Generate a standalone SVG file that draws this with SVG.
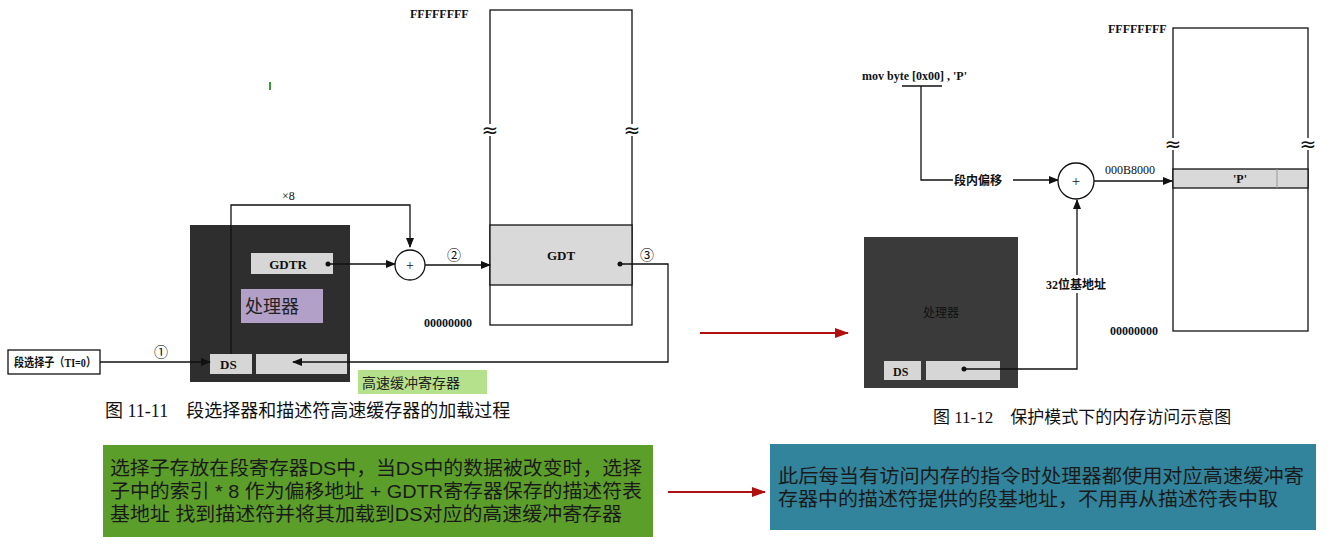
<svg xmlns="http://www.w3.org/2000/svg" width="1332" height="544" viewBox="0 0 1332 544">
<defs>
<marker id="ah" markerWidth="10" markerHeight="8" refX="9" refY="4" orient="auto" markerUnits="userSpaceOnUse"><path d="M0,0 L10,4 L0,8 Z" fill="#111"/></marker>
<marker id="rh" markerWidth="14" markerHeight="10" refX="13" refY="5" orient="auto" markerUnits="userSpaceOnUse"><path d="M0,0 L14,5 L0,10 Z" fill="#b01010"/></marker>
<style>
.t{font-family:"Liberation Serif","Noto Sans CJK SC",serif;fill:#111}
.s{font-family:"Liberation Sans","Noto Sans CJK SC",sans-serif}
.ln{stroke:#111;stroke-width:1.3;fill:none}
.box{fill:#fff;stroke:#111;stroke-width:1.3}
.dark{fill:#2e2e2e}
.reg{fill:#d6d6d6}
.band{fill:#d9d9d9;stroke:#111;stroke-width:1.3}
.brk{font-family:"DejaVu Sans",sans-serif;font-size:20px;fill:#111}
</style>
</defs>
<rect width="1332" height="544" fill="#fff"/>

<g id="mem1">
<rect x="490" y="10" width="142" height="315" class="box"/>
<rect x="490" y="225" width="142" height="60" class="band"/>
<text x="561" y="260" class="t" font-size="13" font-weight="bold" text-anchor="middle">GDT</text>
<text x="410" y="18" class="t" font-size="12" font-weight="bold">FFFFFFFF</text>
<text x="424" y="327" class="t" font-size="12" font-weight="bold">00000000</text>
<rect x="482" y="124" width="16" height="12" fill="#fff"/>
<rect x="624" y="124" width="16" height="12" fill="#fff"/>
<text x="490" y="137" class="brk" text-anchor="middle">≈</text>
<text x="632" y="137" class="brk" text-anchor="middle">≈</text>
</g>
<g id="proc1">
<rect x="190" y="225" width="160" height="157" class="dark"/>
<rect x="251" y="253" width="82" height="21" class="reg"/>
<text x="288" y="269" class="t" font-size="13" font-weight="bold" text-anchor="middle">GDTR</text>
<rect x="210" y="354" width="42" height="20" class="reg"/>
<text x="220" y="369" class="t" font-size="13" font-weight="bold">DS</text>
<rect x="256" y="354" width="91" height="20" class="reg"/>
<rect x="241" y="289" width="82" height="34" fill="#b3a0c8"/>
<text x="245" y="313" class="s" font-size="18" fill="#222">处理器</text>
</g>
<g id="sel">
<rect x="8" y="350" width="92" height="24" class="box" stroke-width="2"/>
<text x="14" y="367" class="t" font-size="12" font-weight="bold" textLength="82" lengthAdjust="spacingAndGlyphs">段选择子（TI=0）</text>
</g>
<g id="add1">
<circle cx="410" cy="265" r="15" class="box"/>
<text x="410" y="270" class="t" font-size="14" text-anchor="middle">+</text>
</g>
<g id="cache1">
<rect x="358" y="370" width="129" height="24" fill="#b5e08c"/>
<text x="362" y="388" class="s" font-size="14" fill="#222">高速缓冲寄存器</text>
</g>
<text x="105" y="417" class="t" font-size="18">图 11-11　段选择器和描述符高速缓存器的加载过程</text>
<rect x="269" y="82" width="2" height="8" fill="#3a9a3a"/>

<g id="mem2">
<rect x="1173" y="28" width="135" height="303" class="box"/>
<rect x="1173" y="169" width="135" height="19" class="band"/>
<line x1="1277" y1="169" x2="1277" y2="188" stroke="#999"/>
<text x="1240" y="183" class="t" font-size="12" font-weight="bold" text-anchor="middle">'P'</text>
<text x="1108" y="33" class="t" font-size="12" font-weight="bold">FFFFFFFF</text>
<text x="1110" y="335" class="t" font-size="12" font-weight="bold">00000000</text>
<rect x="1165" y="138" width="16" height="12" fill="#fff"/>
<rect x="1300" y="138" width="16" height="12" fill="#fff"/>
<text x="1173" y="151" class="brk" text-anchor="middle">≈</text>
<text x="1308" y="151" class="brk" text-anchor="middle">≈</text>
</g>
<g id="proc2">
<rect x="864" y="237" width="154" height="151" fill="#3a3a3a"/>
<text x="941" y="317" class="t" font-size="12" fill="#222" text-anchor="middle">处理器</text>
<rect x="884" y="361" width="37" height="19" class="reg"/>
<text x="893" y="376" class="t" font-size="12" font-weight="bold">DS</text>
<rect x="926" y="361" width="74" height="19" class="reg"/>
</g>
<g id="add2">
<circle cx="1076" cy="181" r="18" class="box" stroke-width="1.6"/>
<text x="1076" y="186" class="t" font-size="15" text-anchor="middle">+</text>
</g>
<g id="instr">
<text x="862" y="80" class="t" font-size="12" font-weight="bold">mov byte  [0x00] , 'P'</text>
</g>
<text x="933" y="423" class="t" font-size="17">图 11-12　保护模式下的内存访问示意图</text>

<g id="connectors">
<path d="M231,354 V205 H410 V247" class="ln" marker-end="url(#ah)"/>
<text x="282" y="200" class="t" font-size="12">×8</text>
<circle cx="328" cy="264" r="2.5" fill="#111"/>
<path d="M328,264 H395" class="ln" marker-end="url(#ah)"/>
<path d="M425,265 H490" class="ln" marker-end="url(#ah)"/>
<text x="447" y="260" class="t" font-size="14">②</text>
<circle cx="620" cy="264" r="2.5" fill="#111"/>
<path d="M620,264 H668 V362 H293" class="ln" marker-end="url(#ah)"/>
<text x="640" y="260" class="t" font-size="14">③</text>
<path d="M100,362 H210" class="ln" marker-end="url(#ah)"/>
<text x="154" y="357" class="t" font-size="14">①</text>

<path d="M902,86 H942 M921,86 V180 H1058" class="ln" marker-end="url(#ah)"/>
<rect x="953" y="171" width="60" height="18" fill="#fff"/>
<text x="954" y="185" class="t" font-size="12" font-weight="bold">段内偏移</text>
<path d="M1094,181 H1172" class="ln" marker-end="url(#ah)"/>
<text x="1105" y="174" class="t" font-size="12">000B8000</text>
<circle cx="964" cy="369" r="2.5" fill="#111"/>
<path d="M964,369 H1077 V200" class="ln" marker-end="url(#ah)"/>
<rect x="1044" y="275" width="66" height="18" fill="#fff"/>
<text x="1046" y="289" class="t" font-size="12" font-weight="bold">32位基地址</text>

<path d="M700,333 H848" stroke="#b01010" stroke-width="2" fill="none" marker-end="url(#rh)"/>
<path d="M668,492 H765" stroke="#b01010" stroke-width="2" fill="none" marker-end="url(#rh)"/>
</g>

<g id="note1">
<rect x="103" y="445" width="550" height="92" fill="#5c9e2a"/>
<text class="s" font-size="19" fill="#1a1a1a" lengthAdjust="spacingAndGlyphs">
<tspan x="110" y="475" textLength="532" lengthAdjust="spacingAndGlyphs">选择子存放在段寄存器DS中，当DS中的数据被改变时，选择</tspan>
<tspan x="110" y="498" textLength="532" lengthAdjust="spacingAndGlyphs">子中的索引 * 8 作为偏移地址 + GDTR寄存器保存的描述符表</tspan>
<tspan x="110" y="521" textLength="512" lengthAdjust="spacingAndGlyphs">基地址 找到描述符并将其加载到DS对应的高速缓冲寄存器</tspan>
</text>
</g>
<g id="note2">
<rect x="770" y="444" width="546" height="86" fill="#31849b"/>
<text class="s" font-size="19" fill="#1a1a1a">
<tspan x="778" y="483" textLength="526" lengthAdjust="spacingAndGlyphs">此后每当有访问内存的指令时处理器都使用对应高速缓冲寄</tspan>
<tspan x="778" y="506" textLength="500" lengthAdjust="spacingAndGlyphs">存器中的描述符提供的段基地址，不用再从描述符表中取</tspan>
</text>
</g>
</svg>
